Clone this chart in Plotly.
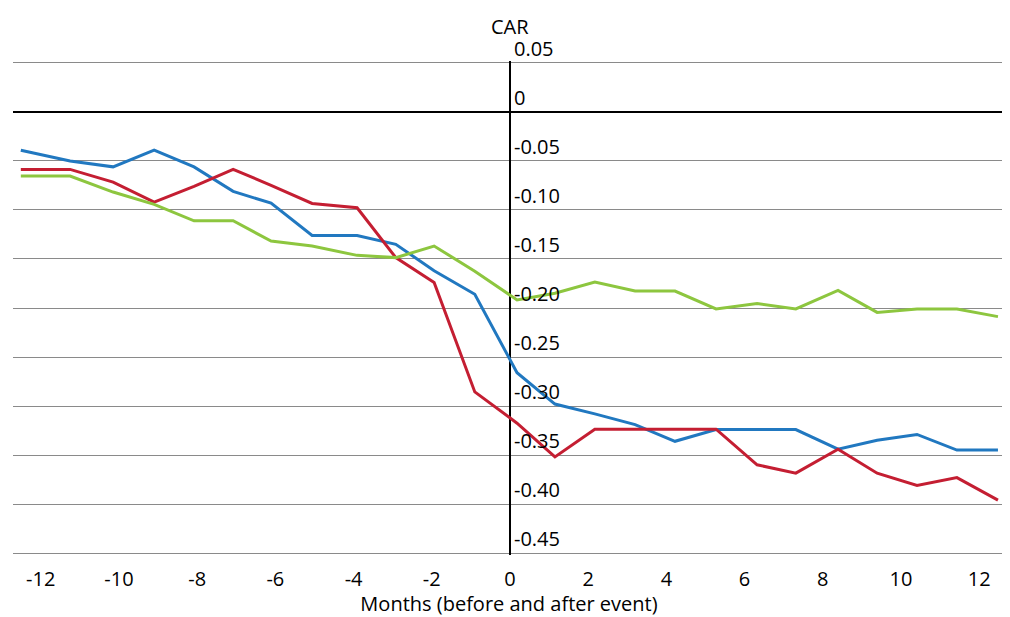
import plotly.graph_objects as go

# Months (positions)
months = [-12.51, -11.25, -10.15, -9.10, -8.08, -7.08, -6.11, -5.06, -3.91, -2.92,
          -1.94, -0.90, 0.18, 1.15, 2.17, 3.20, 4.22, 5.27, 6.32, 7.31,
          8.39, 9.39, 10.41, 11.43, 12.48]

car_blue = [-0.039, -0.050, -0.056, -0.039, -0.056, -0.081, -0.093, -0.126, -0.126, -0.135,
            -0.162, -0.186, -0.266, -0.298, -0.308, -0.319, -0.336, -0.324, -0.324, -0.324,
            -0.344, -0.335, -0.329, -0.345, -0.345]

car_red = [-0.0586, -0.0586, -0.0716, -0.092, -0.076, -0.0586, -0.0748, -0.0933, -0.0977, -0.1486,
           -0.174, -0.2856, -0.3175, -0.3519, -0.3236, -0.3236, -0.3236, -0.3236, -0.360, -0.3685,
           -0.344, -0.3685, -0.381, -0.373, -0.396]

car_green = [-0.0654, -0.0654, -0.0817, -0.0943, -0.111, -0.111, -0.1317, -0.1368, -0.1463, -0.1486,
             -0.1368, -0.1624, -0.1918, -0.185, -0.1735, -0.1827, -0.1827, -0.201, -0.1955, -0.201,
             -0.182, -0.2045, -0.201, -0.201, -0.2088]

y_ticks = [0.05, 0, -0.05, -0.10, -0.15, -0.20, -0.25, -0.30, -0.35, -0.40, -0.45]
y_ticktext = ["0.05", "0", "-0.05", "-0.10", "-0.15", "-0.20", "-0.25", "-0.30", "-0.35", "-0.40", "-0.45"]
x_ticks = [-12, -10, -8, -6, -4, -2, 0, 2, 4, 6, 8, 10, 12]
x_ticktext = ["-12", "-10", "-8", "-6", "-4", "-2", "0", "2", "4", "6", "8", "10", "12"]

x_range = [-12.71, 12.66]
y_range = [-0.452, 0.052]

FONT = "Open Sans"
FS = 20

fig = go.Figure()
for name, vals, color in [("Series 1", car_blue, "#2178C0"),
                          ("Series 2", car_red, "#C41E32"),
                          ("Series 3", car_green, "#8DC63F")]:
    fig.add_trace(go.Scatter(x=months, y=vals, mode="lines", name=name,
                             line=dict(color=color, width=3)))

ypos = (0 - x_range[0]) / (x_range[1] - x_range[0])

fig.update_layout(
    width=1002, height=609,
    margin=dict(l=5, r=5, t=53, b=62, autoexpand=False),
    paper_bgcolor="white", plot_bgcolor="white",
    showlegend=False,
    font=dict(family=FONT, size=FS, color="black"),
    xaxis=dict(range=x_range, tickvals=x_ticks, ticktext=x_ticktext, showgrid=False,
               zeroline=True, zerolinecolor="black", zerolinewidth=1.5,
               showline=False, ticks="", automargin=False, ticklabelstandoff=10,
               tickfont=dict(family=FONT, size=FS, color="black"),
               title=dict(text="Months (before and after event)",
                          font=dict(family=FONT, size=FS, color="black"), standoff=5)),
    yaxis=dict(range=y_range, tickvals=y_ticks, ticktext=y_ticktext,
               showgrid=True, gridcolor="#8a8a8a", gridwidth=1.2,
               zeroline=True, zerolinecolor="black", zerolinewidth=2,
               showline=False, ticks="", automargin=False,
               side="right", anchor="free", position=ypos,
               ticklabelshift=-14, ticklabelstandoff=3,
               tickfont=dict(family=FONT, size=FS, color="black")),
    annotations=[dict(text="CAR", x=0, xref="x", y=1, yref="paper",
                      yanchor="middle", yshift=35, showarrow=False,
                      font=dict(family=FONT, size=FS, color="black"))],
)

fig.write_html("out.html")
